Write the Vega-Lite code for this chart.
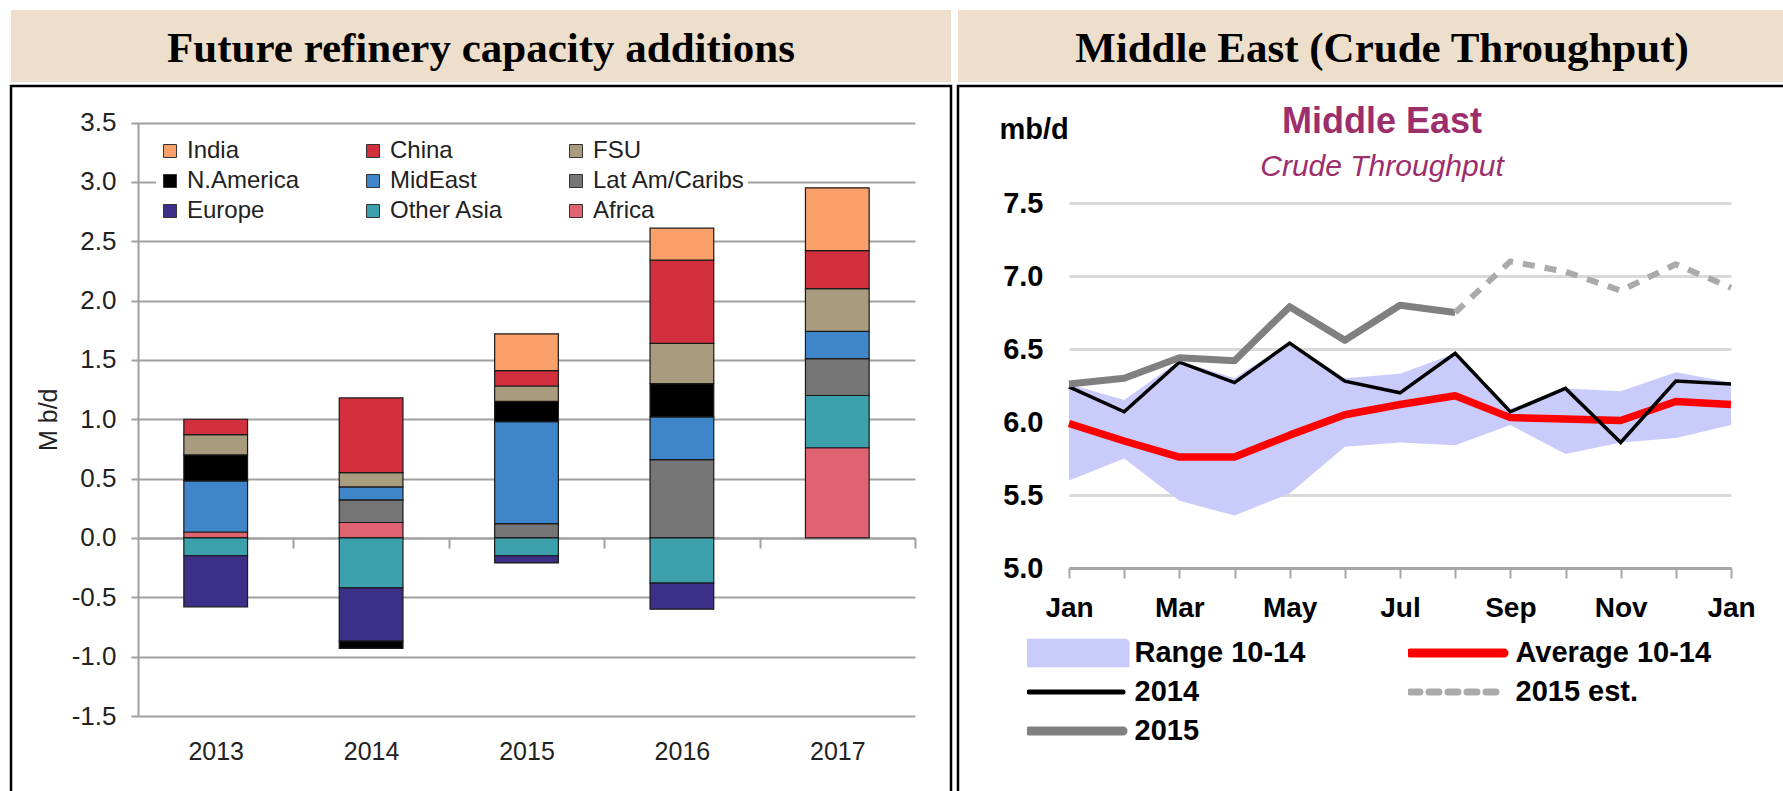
{
  "$schema": "https://vega.github.io/schema/vega-lite/v6.json",
  "padding": {"left": 9, "top": 10, "right": 0, "bottom": 0},
  "background": "white",
  "config": {"font": "Liberation Sans", "view": {"stroke": null}},
  "resolve": {"scale": {"color": "independent"}, "legend": {"color": "independent"}},
  "datasets": {
    "bars": [
      {"year": "2013", "region": "Africa", "rank": 1, "value": 0.05},
      {"year": "2013", "region": "MidEast", "rank": 5, "value": 0.43},
      {"year": "2013", "region": "N.America", "rank": 6, "value": 0.22},
      {"year": "2013", "region": "FSU", "rank": 7, "value": 0.17},
      {"year": "2013", "region": "China", "rank": 8, "value": 0.13},
      {"year": "2013", "region": "Other Asia", "rank": 2, "value": -0.15},
      {"year": "2013", "region": "Europe", "rank": 3, "value": -0.43},
      {"year": "2014", "region": "Africa", "rank": 1, "value": 0.13},
      {"year": "2014", "region": "Lat Am/Caribs", "rank": 4, "value": 0.19},
      {"year": "2014", "region": "MidEast", "rank": 5, "value": 0.11},
      {"year": "2014", "region": "FSU", "rank": 7, "value": 0.12},
      {"year": "2014", "region": "China", "rank": 8, "value": 0.63},
      {"year": "2014", "region": "Other Asia", "rank": 2, "value": -0.42},
      {"year": "2014", "region": "Europe", "rank": 3, "value": -0.45},
      {"year": "2014", "region": "N.America", "rank": 6, "value": -0.06},
      {"year": "2015", "region": "Lat Am/Caribs", "rank": 4, "value": 0.12},
      {"year": "2015", "region": "MidEast", "rank": 5, "value": 0.86},
      {"year": "2015", "region": "N.America", "rank": 6, "value": 0.17},
      {"year": "2015", "region": "FSU", "rank": 7, "value": 0.13},
      {"year": "2015", "region": "China", "rank": 8, "value": 0.13},
      {"year": "2015", "region": "India", "rank": 9, "value": 0.31},
      {"year": "2015", "region": "Other Asia", "rank": 2, "value": -0.15},
      {"year": "2015", "region": "Europe", "rank": 3, "value": -0.06},
      {"year": "2016", "region": "Lat Am/Caribs", "rank": 4, "value": 0.66},
      {"year": "2016", "region": "MidEast", "rank": 5, "value": 0.36},
      {"year": "2016", "region": "N.America", "rank": 6, "value": 0.28},
      {"year": "2016", "region": "FSU", "rank": 7, "value": 0.34},
      {"year": "2016", "region": "China", "rank": 8, "value": 0.70},
      {"year": "2016", "region": "India", "rank": 9, "value": 0.27},
      {"year": "2016", "region": "Other Asia", "rank": 2, "value": -0.38},
      {"year": "2016", "region": "Europe", "rank": 3, "value": -0.22},
      {"year": "2017", "region": "Africa", "rank": 1, "value": 0.76},
      {"year": "2017", "region": "Other Asia", "rank": 2, "value": 0.44},
      {"year": "2017", "region": "Lat Am/Caribs", "rank": 4, "value": 0.31},
      {"year": "2017", "region": "MidEast", "rank": 5, "value": 0.23},
      {"year": "2017", "region": "FSU", "rank": 7, "value": 0.36},
      {"year": "2017", "region": "China", "rank": 8, "value": 0.32},
      {"year": "2017", "region": "India", "rank": 9, "value": 0.53}
    ],
    "range": [
      {"month": 1, "series": "Range 10-14", "lo": 5.60, "hi": 6.26},
      {"month": 2, "series": "Range 10-14", "lo": 5.75, "hi": 6.15},
      {"month": 3, "series": "Range 10-14", "lo": 5.46, "hi": 6.42},
      {"month": 4, "series": "Range 10-14", "lo": 5.36, "hi": 6.30},
      {"month": 5, "series": "Range 10-14", "lo": 5.51, "hi": 6.55},
      {"month": 6, "series": "Range 10-14", "lo": 5.83, "hi": 6.30},
      {"month": 7, "series": "Range 10-14", "lo": 5.86, "hi": 6.33},
      {"month": 8, "series": "Range 10-14", "lo": 5.84, "hi": 6.47},
      {"month": 9, "series": "Range 10-14", "lo": 5.98, "hi": 6.09},
      {"month": 10, "series": "Range 10-14", "lo": 5.78, "hi": 6.23},
      {"month": 11, "series": "Range 10-14", "lo": 5.86, "hi": 6.21},
      {"month": 12, "series": "Range 10-14", "lo": 5.89, "hi": 6.34},
      {"month": 13, "series": "Range 10-14", "lo": 5.98, "hi": 6.27}
    ],
    "lines": [
      {"month": 1, "series": "Average 10-14", "value": 5.99},
      {"month": 2, "series": "Average 10-14", "value": 5.87},
      {"month": 3, "series": "Average 10-14", "value": 5.76},
      {"month": 4, "series": "Average 10-14", "value": 5.76},
      {"month": 5, "series": "Average 10-14", "value": 5.91},
      {"month": 6, "series": "Average 10-14", "value": 6.05},
      {"month": 7, "series": "Average 10-14", "value": 6.12},
      {"month": 8, "series": "Average 10-14", "value": 6.18},
      {"month": 9, "series": "Average 10-14", "value": 6.03},
      {"month": 10, "series": "Average 10-14", "value": 6.02},
      {"month": 11, "series": "Average 10-14", "value": 6.01},
      {"month": 12, "series": "Average 10-14", "value": 6.14},
      {"month": 13, "series": "Average 10-14", "value": 6.12},
      {"month": 1, "series": "2014", "value": 6.24},
      {"month": 2, "series": "2014", "value": 6.07},
      {"month": 3, "series": "2014", "value": 6.41},
      {"month": 4, "series": "2014", "value": 6.27},
      {"month": 5, "series": "2014", "value": 6.54},
      {"month": 6, "series": "2014", "value": 6.28},
      {"month": 7, "series": "2014", "value": 6.20},
      {"month": 8, "series": "2014", "value": 6.47},
      {"month": 9, "series": "2014", "value": 6.07},
      {"month": 10, "series": "2014", "value": 6.23},
      {"month": 11, "series": "2014", "value": 5.86},
      {"month": 12, "series": "2014", "value": 6.28},
      {"month": 13, "series": "2014", "value": 6.26},
      {"month": 1, "series": "2015", "value": 6.26},
      {"month": 2, "series": "2015", "value": 6.30},
      {"month": 3, "series": "2015", "value": 6.44},
      {"month": 4, "series": "2015", "value": 6.42},
      {"month": 5, "series": "2015", "value": 6.79},
      {"month": 6, "series": "2015", "value": 6.56},
      {"month": 7, "series": "2015", "value": 6.80},
      {"month": 8, "series": "2015", "value": 6.75},
      {"month": 8, "series": "2015 est.", "value": 6.75},
      {"month": 9, "series": "2015 est.", "value": 7.10},
      {"month": 10, "series": "2015 est.", "value": 7.03},
      {"month": 11, "series": "2015 est.", "value": 6.90},
      {"month": 12, "series": "2015 est.", "value": 7.08},
      {"month": 13, "series": "2015 est.", "value": 6.92}
    ]
  },
  "spacing": 3,
  "hconcat": [
    {
      "spacing": 2,
      "vconcat": [
        {
          "width": 940,
          "height": 72,
          "view": {"fill": "#EEDFCC", "stroke": null},
          "data": {"values": [{"label": "Future refinery capacity additions"}]},
          "mark": {"type": "text", "font": "Liberation Serif", "fontSize": 43, "fontWeight": "bold", "color": "#000000", "baseline": "middle", "dy": 3},
          "encoding": {"text": {"field": "label"}}
        },
        {
          "width": 940,
          "height": 720,
          "view": {"stroke": "#000000", "strokeWidth": 2.5, "fill": "white"},
          "data": {"name": "bars"},
          "mark": {"type": "bar", "stroke": "#1a1a1a", "strokeWidth": 1.2},
          "encoding": {
            "x": {
              "field": "year", "type": "ordinal",
              "scale": {"range": [127, 904], "paddingInner": 0.59, "paddingOuter": 0.295},
              "axis": {
                "title": null, "orient": "bottom", "offset": -268, "grid": false,
                "domainColor": "#A0A0A0", "domainWidth": 2,
                "ticks": true, "tickSize": 10, "tickColor": "#A0A0A0", "tickWidth": 2,
                "tickOffset": 77.7, "labelOffset": -77.7,
                "labelPadding": 191, "labelFontSize": 25, "labelColor": "#222222", "labelAngle": 0
              }
            },
            "y": {
              "field": "value", "type": "quantitative",
              "scale": {"domain": [-1.5, 3.5], "range": [630, 36.5], "nice": false, "zero": false},
              "axis": {
                "offset": -127,
                "values": [-1.5, -1, -0.5, 0, 0.5, 1, 1.5, 2, 2.5, 3, 3.5],
                "labelExpr": "replace(format(datum.value, '.1f'), '−', '-')",
                "domainColor": "#A0A0A0", "domainWidth": 2,
                "tickColor": "#A0A0A0", "tickSize": 7, "tickWidth": 2,
                "gridColor": "#A0A0A0", "gridWidth": 2,
                "labelFontSize": 26, "labelColor": "#222222", "labelPadding": 15,
                "title": "M b/d", "titleFontSize": 25, "titleFontWeight": "normal", "titleColor": "#222222", "titlePadding": 10
              }
            },
            "order": {"field": "rank", "type": "quantitative", "sort": "ascending"},
            "color": {
              "field": "region", "type": "nominal",
              "scale": {
                "domain": ["India", "N.America", "Europe", "China", "MidEast", "Other Asia", "FSU", "Lat Am/Caribs", "Africa"],
                "range": ["#F9A06A", "#000000", "#3B2F87", "#D3303F", "#3E86C9", "#3CA1AC", "#A89B7E", "#757575", "#E06371"]
              },
              "legend": {
                "title": null, "orient": "none", "legendX": 145, "legendY": 127,
                "padding": 2, "fillColor": "white",
                "columns": 3, "gridAlign": "all", "columnPadding": 21, "rowPadding": 6,
                "symbolType": "square", "symbolSize": 169, "symbolStrokeColor": "#333333", "symbolStrokeWidth": 1, "symbolOpacity": 1,
                "labelFontSize": 24, "labelColor": "#222222", "labelOffset": 5, "clipHeight": 24, "labelLimit": 300
              }
            }
          }
        }
      ]
    },
    {
      "spacing": 2,
      "vconcat": [
        {
          "width": 848,
          "height": 72,
          "view": {"fill": "#EEDFCC", "stroke": null},
          "data": {"values": [{"label": "Middle East (Crude Throughput)"}]},
          "mark": {"type": "text", "font": "Liberation Serif", "fontSize": 43, "fontWeight": "bold", "color": "#000000", "baseline": "middle", "dy": 3},
          "encoding": {"text": {"field": "label"}}
        },
        {
          "width": 848,
          "height": 720,
          "view": {"stroke": "#000000", "strokeWidth": 2.5, "fill": "white"},
          "title": {
            "text": "Middle East", "subtitle": "Crude Throughput",
            "color": "#9C2F6B", "subtitleColor": "#9C2F6B",
            "font": "Liberation Sans", "fontSize": 36, "fontWeight": "bold",
            "subtitleFont": "Liberation Sans", "subtitleFontSize": 30, "subtitleFontStyle": "italic",
            "anchor": "middle", "frame": "group", "offset": -97, "subtitlePadding": 11
          },
          "data": {"name": "lines"},
          "encoding": {
            "x": {
              "field": "month", "type": "quantitative",
              "scale": {"domain": [1, 13], "range": [111, 773], "nice": false, "zero": false},
              "axis": {
                "title": null, "offset": -238, "grid": false,
                "values": [1, 2, 3, 4, 5, 6, 7, 8, 9, 10, 11, 12, 13],
                "labelExpr": "['Jan','','Mar','','May','','Jul','','Sep','','Nov','','Jan'][datum.value - 1]",
                "domainColor": "#A6A6A6", "domainWidth": 3,
                "tickColor": "#A6A6A6", "tickWidth": 2, "tickSize": 10,
                "labelFontSize": 28, "labelFontWeight": "bold", "labelColor": "#000000",
                "labelPadding": 16, "labelFlush": false, "labelOverlap": false
              }
            },
            "y": {
              "field": "value", "type": "quantitative",
              "scale": {"domain": [5, 7.5], "range": [482, 117], "nice": false, "zero": false},
              "axis": {
                "offset": -111, "domain": false, "ticks": false,
                "values": [5, 5.5, 6, 6.5, 7, 7.5],
                "labelExpr": "format(datum.value, '.1f')",
                "gridColor": "#D9D9D9", "gridWidth": 3,
                "labelFontSize": 29, "labelFontWeight": "bold", "labelColor": "#000000", "labelPadding": 26,
                "title": "mb/d", "titleAngle": 0, "titleAlign": "left", "titleBaseline": "middle",
                "titleX": -70, "titleY": 43, "titleFontSize": 29, "titleFontWeight": "bold", "titleColor": "#000000"
              }
            },
            "color": {
              "field": "series", "type": "nominal",
              "scale": {
                "domain": ["Range 10-14", "2014", "2015", "Average 10-14", "2015 est."],
                "range": ["#C9CBFA", "#000000", "#808080", "#FF0000", "#AAAAAA"]
              },
              "legend": {
                "title": null, "orient": "none", "legendX": 69, "legendY": 628, "padding": 0,
                "columns": 2, "columnPadding": 102, "rowPadding": 9,
                "symbolSize": 9604, "clipHeight": 30, "symbolOffset": 34.5,
                "labelFontSize": 29, "labelFontWeight": "bold", "labelColor": "#000000", "labelOffset": 44, "labelLimit": 400,
                "encode": {
                  "symbols": {
                    "update": {
                      "shape": {"signal": "datum.value === 'Range 10-14' ? 'M-1,-0.2H1V0.2H-1Z' : 'M-0.96,0H0.96'"},
                      "fill": {"signal": "datum.value === 'Range 10-14' ? '#C9CBFA' : 'transparent'"},
                      "stroke": {"signal": "datum.value === 'Range 10-14' ? 'transparent' : datum.value === 'Average 10-14' ? '#FF0000' : datum.value === '2014' ? '#000000' : datum.value === '2015 est.' ? '#AAAAAA' : '#808080'"},
                      "strokeWidth": {"signal": "datum.value === '2014' ? 5 : datum.value === '2015 est.' ? 7 : 9"},
                      "strokeDash": {"signal": "datum.value === '2015 est.' ? [10, 9] : [1, 0]"},
                      "strokeCap": {"value": "round"},
                      "opacity": {"value": 1}
                    }
                  }
                }
              }
            }
          },
          "layer": [
            {
              "data": {"name": "range"},
              "mark": {"type": "area", "opacity": 1},
              "encoding": {
                "y": {
                  "field": "hi", "type": "quantitative",
                  "scale": {"domain": [5, 7.5], "range": [482, 117], "nice": false, "zero": false}
                },
                "y2": {"field": "lo"}
              }
            },
            {
              "transform": [{"filter": "datum.series === 'Average 10-14'"}],
              "mark": {"type": "line", "strokeWidth": 7.5, "strokeJoin": "round"}
            },
            {
              "transform": [{"filter": "datum.series === '2014'"}],
              "mark": {"type": "line", "strokeWidth": 3.5, "strokeJoin": "miter"}
            },
            {
              "transform": [{"filter": "datum.series === '2015'"}],
              "mark": {"type": "line", "strokeWidth": 7, "strokeJoin": "round"}
            },
            {
              "transform": [{"filter": "datum.series === '2015 est.'"}],
              "mark": {"type": "line", "strokeWidth": 6, "strokeDash": [12, 10], "strokeJoin": "round"}
            }
          ]
        }
      ]
    }
  ]
}
